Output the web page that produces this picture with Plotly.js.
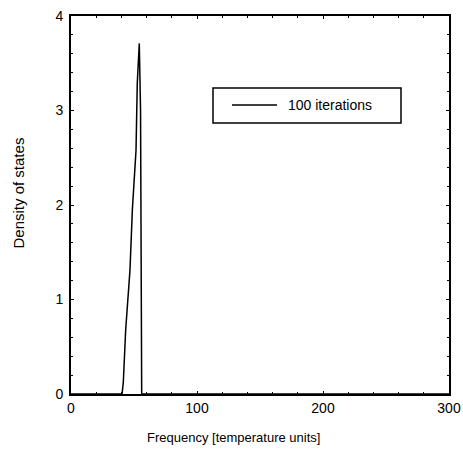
<!DOCTYPE html>
<html>
<head>
<meta charset="utf-8">
<script src="https://cdn.plot.ly/plotly-3.0.1.min.js"></script>
<style>html,body{margin:0;padding:0;background:#fff;}#chart{width:463px;height:461px;}</style>
</head>
<body>
<div id="chart"></div>
<script>
// Data
const freq    = [0, 40.5, 41.5, 43.4, 46.8, 48.7, 51.6, 52.6, 54.2, 55.2, 56.1, 300];
const density = [0, 0,    0.12, 0.68, 1.31, 1.95, 2.58, 3.29, 3.71, 3.0,  0,    0];
const seriesName = "100 iterations";
const xTitle = "Frequency [temperature units]";
const yTitle = "Density of states";
const xTicks = [0, 100, 200, 300];
const yTicks = [0, 1, 2, 3, 4];

const fam = "Liberation Sans, Arial, sans-serif";
const font = {family: fam, size: 14, color: "#000"};

const trace = {
  x: freq, y: density, type: "scatter", mode: "lines",
  line: {color: "#000", width: 1.5}, name: seriesName, showlegend: false
};

const axisCommon = {
  showline: true, linecolor: "#000", linewidth: 2, mirror: "allticks",
  ticks: "inside", ticklen: 3, tickwidth: 1, tickcolor: "#000",
  showgrid: false, zeroline: false, tickfont: font
};

const layout = {
  width: 463, height: 461,
  margin: {l: 71, r: 14, t: 16, b: 67},
  paper_bgcolor: "#fff", plot_bgcolor: "#fff",
  font: font,
  showlegend: false,
  xaxis: Object.assign({}, axisCommon, {
    range: [0, 300], tickvals: xTicks, ticktext: xTicks.map(String),
    minor: {dtick: 20, ticks: "inside", ticklen: 2, tickcolor: "#000"}
  }),
  yaxis: Object.assign({}, axisCommon, {
    range: [0, 4], tickvals: yTicks, ticktext: yTicks.map(String),
    ticklabelstandoff: 3,
    minor: {dtick: 0.2, ticks: "inside", ticklen: 2, tickcolor: "#000"}
  }),
  shapes: [
    {type: "rect", xref: "paper", yref: "paper",
     x0: (213-71)/378, x1: (401-71)/378, y0: (394-123)/378, y1: (394-88)/378,
     line: {color: "#000", width: 1.5}, fillcolor: "rgba(0,0,0,0)"},
    {type: "line", xref: "paper", yref: "paper",
     x0: (232-71)/378, x1: (277-71)/378, y0: (394-105)/378, y1: (394-105)/378,
     line: {color: "#000", width: 1.5}}
  ],
  annotations: [
    {xref: "paper", yref: "paper", x: (286-71)/378, y: (394-105)/378,
     xanchor: "left", yanchor: "middle", text: seriesName, showarrow: false,
     font: {family: fam, size: 14, color: "#000"}},
    {xref: "paper", yref: "paper", x: (233.5-71)/378, y: (394-437)/378,
     xanchor: "center", yanchor: "middle", text: xTitle, showarrow: false,
     font: {family: fam, size: 13, color: "#000"}},
    {xref: "paper", yref: "paper", x: (18-71)/378, y: (394-193.5)/378,
     xanchor: "center", yanchor: "middle", text: yTitle, showarrow: false, textangle: -90,
     font: {family: fam, size: 15, color: "#000"}}
  ]
};

Plotly.newPlot("chart", [trace], layout, {staticPlot: true, displayModeBar: false});
</script>
</body>
</html>
